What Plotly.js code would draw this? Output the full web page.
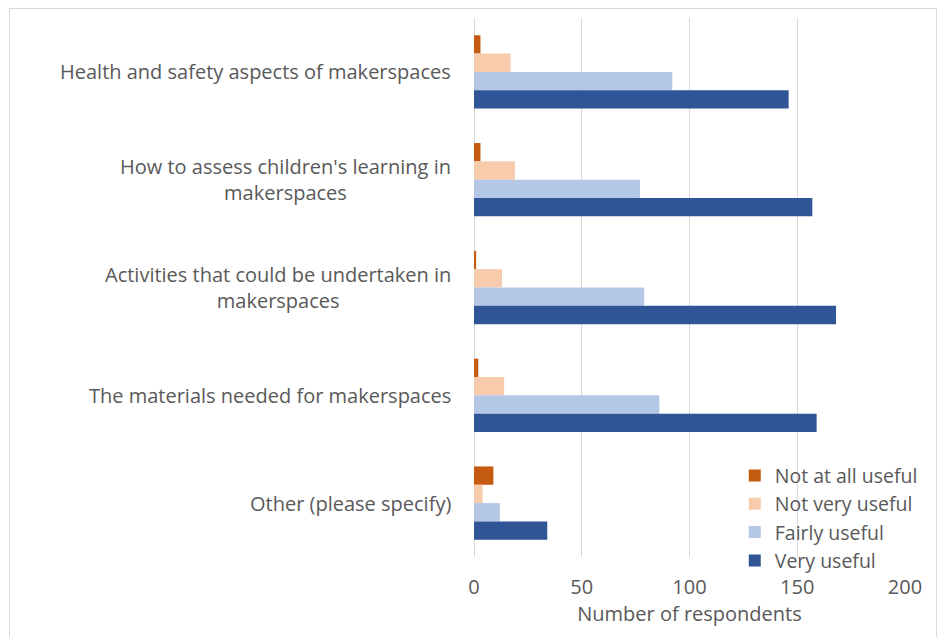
<!DOCTYPE html>
<html>
<head>
<meta charset="utf-8">
<script src="https://cdn.plot.ly/plotly-3.0.1.min.js"></script>
<style>
html,body{margin:0;padding:0;background:#fff;}
#wrap{position:relative;width:939px;height:637px;}
#chart{width:939px;height:637px;}
#frame{position:absolute;left:9px;top:8px;width:926px;height:640px;border:1px solid #d9d9d9;pointer-events:none;}
</style>
</head>
<body>
<div id="wrap"><div id="chart"></div><div id="frame"></div></div>
<script>
const categories = [
  "Health and safety aspects of makerspaces",
  "How to assess children's learning in<br>makerspaces",
  "Activities that could be undertaken in<br>makerspaces",
  "The materials needed for makerspaces",
  "Other (please specify)"
];
const seriesNames = ["Not at all useful", "Not very useful", "Fairly useful", "Very useful"];
const notAtAll   = [3, 3, 1, 2, 9];
const notVery    = [17, 19, 13, 14, 4];
const fairly     = [92, 77, 79, 86, 12];
const veryUseful = [146, 157, 168, 159, 34];
const xTicks = [0, 50, 100, 150, 200];

const colors = ["#C55A11", "#F8CBAD", "#B4C7E7", "#2F5597"];
const values = [notAtAll, notVery, fairly, veryUseful];
const catIdx = categories.map((c, i) => i);

const font = "Open Sans, Noto Sans, sans-serif";
const textColor = "#595959";
const fs = 20;

const traces = values.map((v, i) => ({
  type: "bar",
  orientation: "h",
  name: seriesNames[i],
  x: v,
  y: catIdx,
  marker: {color: colors[i]},
  hoverinfo: "x+name"
}));

const annotations = categories.map((c, i) => ({
  text: c,
  xref: "paper", yref: "y",
  x: 0, y: i,
  xanchor: "right", yanchor: "middle",
  xshift: -21,
  align: "center",
  showarrow: false,
  font: {family: font, size: fs, color: textColor}
}));

const layout = {
  width: 939, height: 637,
  margin: {l: 473.5, r: 33.5, t: 18, b: 80},
  paper_bgcolor: "#fff", plot_bgcolor: "#fff",
  barmode: "group",
  bargap: 0.32,
  bargroupgap: 0,
  showlegend: true,
  legend: {
    x: 0.605, y: 0.187, xanchor: "left", yanchor: "top",
    font: {family: font, size: 19.5, color: textColor},
    bgcolor: "rgba(255,255,255,0)",
    tracegroupgap: 0,
    itemwidth: 30
  },
  xaxis: {
    range: [0, 200],
    tickvals: xTicks,
    ticktext: xTicks.map(String),
    showgrid: true, gridcolor: "#d9d9d9", gridwidth: 1,
    zeroline: true, zerolinecolor: "#d9d9d9", zerolinewidth: 1,
    showline: false,
    ticks: "outside", ticklen: 12, tickcolor: "rgba(0,0,0,0)",
    tickfont: {family: font, size: fs, color: textColor},
    title: {text: "Number of respondents", font: {family: font, size: fs, color: textColor}, standoff: 2},
    fixedrange: true
  },
  yaxis: {
    type: "linear",
    range: [4.5, -0.5],
    showticklabels: false,
    showgrid: false, zeroline: false, showline: false,
    ticks: "",
    fixedrange: true
  },
  annotations: annotations,
  font: {family: font, color: textColor}
};

Plotly.newPlot("chart", traces, layout, {displayModeBar: false, staticPlot: true});
</script>
</body>
</html>
